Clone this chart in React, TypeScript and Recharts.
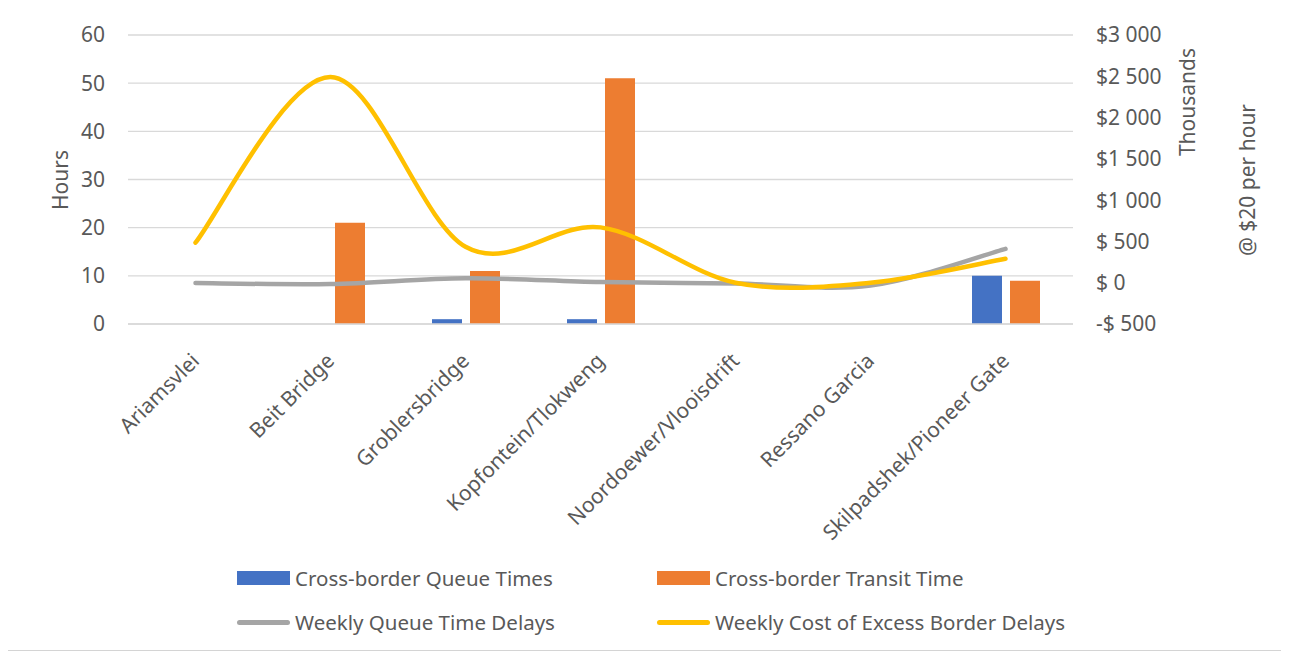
import React from 'react';
import {
  Bar,
  CartesianGrid,
  ComposedChart,
  Line,
  XAxis,
  YAxis,
} from 'recharts';

const borderPosts = [
  'Ariamsvlei',
  'Beit Bridge',
  'Groblersbridge',
  'Kopfontein/Tlokweng',
  'Noordoewer/Vlooisdrift',
  'Ressano Garcia',
  'Skilpadshek/Pioneer Gate',
];
const queueTimes = [0, 0, 1, 1, 0, 0, 10];
const transitTimes = [0, 21, 11, 51, 0, 0, 9];
const weeklyQueueDelays = [8.5, 8.3, 9.5, 8.7, 8.4, 8.0, 15.6];
const weeklyCost = [485, 2490, 436, 670, 0, 0, 290];
const hourTicks = [0, 10, 20, 30, 40, 50, 60];
const costTicks = [-500, 0, 500, 1000, 1500, 2000, 2500, 3000];

const data = borderPosts.map((name, i) => ({
  name,
  queue: queueTimes[i],
  transit: transitTimes[i],
  delays: weeklyQueueDelays[i],
  cost: weeklyCost[i],
}));

const FONT = "'Noto Sans', sans-serif";
const TEXT = '#595959';
const TICK_SIZE = 21;

// Excel-like smoothed line: bezier with control points at 1/6 of neighbour span
function excelSmooth(context: any) {
  let pts: number[][] = [];
  return {
    areaStart() {},
    areaEnd() {},
    lineStart() {
      pts = [];
    },
    point(x: number, y: number) {
      pts.push([+x, +y]);
    },
    lineEnd() {
      if (!pts.length) return;
      context.moveTo(pts[0][0], pts[0][1]);
      for (let i = 0; i < pts.length - 1; i++) {
        const p0 = pts[i - 1] || pts[i];
        const p1 = pts[i];
        const p2 = pts[i + 1];
        const p3 = pts[i + 2] || pts[i + 1];
        context.bezierCurveTo(
          p1[0] + (p2[0] - p0[0]) / 6,
          p1[1] + (p2[1] - p0[1]) / 6,
          p2[0] - (p3[0] - p1[0]) / 6,
          p2[1] - (p3[1] - p1[1]) / 6,
          p2[0],
          p2[1]
        );
      }
    },
  };
}

const formatCost = (v: number) => {
  if (v < 0) return `-$ ${Math.abs(v)}`;
  if (v < 1000) return `$ ${v}`;
  return `$${Math.floor(v / 1000)} ${String(v % 1000).padStart(3, '0')}`;
};

const XTick = ({ x, y, payload }: any) => (
  <text
    transform={`translate(${x}, ${y + 25}) rotate(-45)`}
    textAnchor='end'
    dy='0.35em'
    fill={TEXT}
    fontSize={TICK_SIZE}
    fontFamily={FONT}
  >
    {payload.value}
  </text>
);

const rotated = (left: number, top: number): React.CSSProperties => ({
  position: 'absolute',
  left,
  top,
  transform: 'translate(-50%, -50%) rotate(-90deg)',
  whiteSpace: 'nowrap',
  fontSize: TICK_SIZE,
  color: TEXT,
  fontFamily: FONT,
});

const legendItems = [
  { label: 'Cross-border Queue Times', color: '#4472C4', kind: 'bar', left: 229, top: 570 },
  { label: 'Cross-border Transit Time', color: '#ED7D31', kind: 'bar', left: 649, top: 570 },
  { label: 'Weekly Queue Time Delays', color: '#A5A5A5', kind: 'line', left: 229, top: 614 },
  { label: 'Weekly Cost of Excess Border Delays', color: '#FFC000', kind: 'line', left: 649, top: 614 },
];

export default function App() {
  return (
    <div
      style={{
        position: 'relative',
        left: -1,
        top: -1,
        width: 1280,
        height: 642,
        border: '1px solid #d4d4d4',
        background: '#fff',
        fontFamily: FONT,
      }}
    >
      <ComposedChart
        width={1280}
        height={540}
        data={data}
        margin={{ top: 27, right: 0, bottom: 0, left: 0 }}
        barSize={30}
        barGap={8}
      >
        <CartesianGrid yAxisId='left' vertical={false} stroke='#d9d9d9' strokeWidth={1.3} />
        <XAxis
          dataKey='name'
          height={224}
          interval={0}
          axisLine={{ stroke: '#d9d9d9', strokeWidth: 1.3 }}
          tickLine={false}
          tick={<XTick />}
        />
        <YAxis
          yAxisId='left'
          width={120}
          domain={[0, 60]}
          ticks={hourTicks}
          axisLine={false}
          tickLine={false}
          tickMargin={17}
          tick={{ fill: TEXT, fontSize: TICK_SIZE, fontFamily: FONT }}
        />
        <YAxis
          yAxisId='right'
          orientation='right'
          width={215}
          domain={[-500, 3000]}
          ticks={costTicks}
          tickFormatter={formatCost}
          axisLine={false}
          tickLine={false}
          tickMargin={17}
          tick={{ fill: TEXT, fontSize: TICK_SIZE, fontFamily: FONT, textAnchor: 'start' }}
        />
        <Bar yAxisId='left' dataKey='queue' fill='#4472C4' isAnimationActive={false} />
        <Bar yAxisId='left' dataKey='transit' fill='#ED7D31' isAnimationActive={false} />
        <Line
          yAxisId='left'
          dataKey='delays'
          type={excelSmooth as any}
          stroke='#A5A5A5'
          strokeWidth={4.5}
          strokeLinecap='round'
          dot={false}
          activeDot={false}
          isAnimationActive={false}
        />
        <Line
          yAxisId='right'
          dataKey='cost'
          type={excelSmooth as any}
          stroke='#FFC000'
          strokeWidth={4.5}
          strokeLinecap='round'
          dot={false}
          activeDot={false}
          isAnimationActive={false}
        />
      </ComposedChart>

      <div style={rotated(52, 172)}>Hours</div>
      <div style={rotated(1179, 94)}>Thousands</div>
      <div style={rotated(1239, 172)}>@ $20 per hour</div>

      {legendItems.map((item) => (
        <div
          key={item.label}
          style={{
            position: 'absolute',
            left: item.left,
            top: item.top - 14,
            height: 28,
            display: 'flex',
            alignItems: 'center',
            whiteSpace: 'nowrap',
            fontSize: 20.5,
            color: TEXT,
          }}
        >
          {item.kind === 'bar' ? (
            <span style={{ width: 53, height: 14, background: item.color, marginRight: 5 }} />
          ) : (
            <span
              style={{
                width: 53,
                height: 5,
                borderRadius: 3,
                background: item.color,
                marginRight: 5,
              }}
            />
          )}
          <span>{item.label}</span>
        </div>
      ))}
    </div>
  );
}
